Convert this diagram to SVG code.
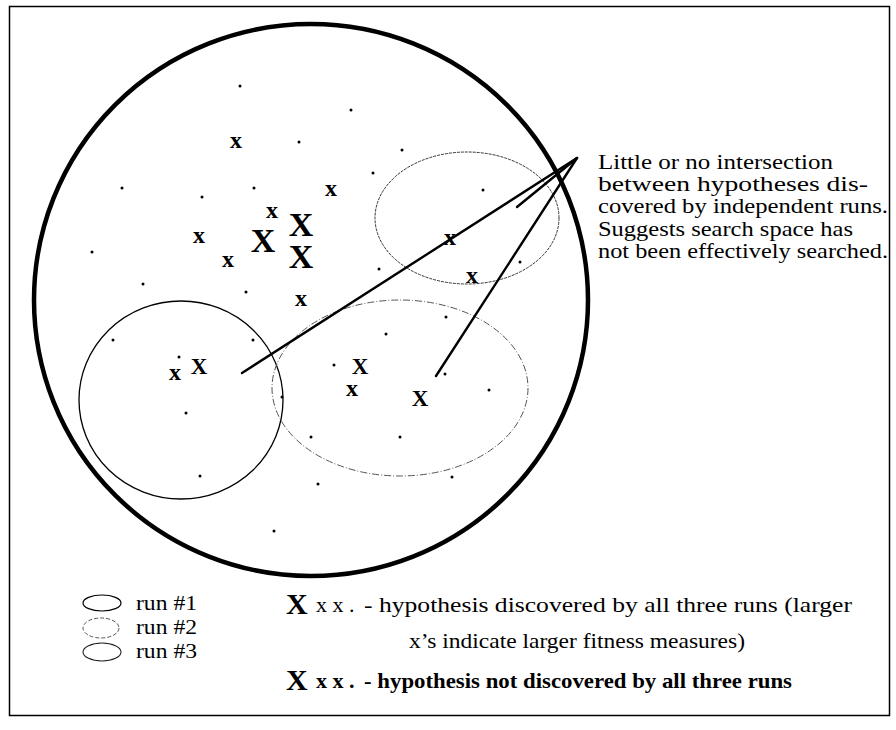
<svg xmlns="http://www.w3.org/2000/svg" width="896" height="730" viewBox="0 0 896 730">
<style>
.t{font-family:"Liberation Serif","Times New Roman",serif;fill:#000}
.dot{fill:#000}
.xs{font-family:"Liberation Serif","Times New Roman",serif;font-weight:bold;font-size:24px;text-anchor:middle}
.xm{font-family:"Liberation Serif","Times New Roman",serif;font-weight:bold;font-size:23px;text-anchor:middle}
.xl{font-family:"Liberation Serif","Times New Roman",serif;font-weight:bold;font-size:34px;text-anchor:middle}
.conn{stroke:#000;stroke-width:2.4;fill:none;stroke-linecap:round}
</style>
<rect x="0" y="0" width="896" height="730" fill="#fff"/>
<rect id="frame" x="9.5" y="6.5" width="880" height="709" fill="none" stroke="#000" stroke-width="1.5"/>

<g id="space">
<ellipse cx="311" cy="300" rx="277" ry="276" fill="none" stroke="#000" stroke-width="4.5"/>
</g>
<g id="run1">
<ellipse cx="181" cy="400" rx="102" ry="99" fill="none" stroke="#000" stroke-width="1.3"/>
</g>
<g id="run2">
<ellipse cx="400" cy="388" rx="128" ry="88" fill="none" stroke="#555" stroke-width="1" stroke-dasharray="7 2 1 2"/>
</g>
<g id="run3">
<ellipse cx="467" cy="218" rx="92" ry="66" fill="none" stroke="#333" stroke-width="1" stroke-dasharray="3 1"/>
</g>

<g id="dots" class="dot">
<circle cx="240" cy="86" r="1.5"/><circle cx="351" cy="110" r="1.5"/><circle cx="299" cy="142" r="1.5"/>
<circle cx="122" cy="188" r="1.5"/><circle cx="202" cy="197" r="1.5"/><circle cx="254" cy="188" r="1.5"/>
<circle cx="92" cy="252" r="1.5"/><circle cx="143" cy="284" r="1.5"/><circle cx="246" cy="292" r="1.5"/>
<circle cx="402" cy="150" r="1.5"/><circle cx="373" cy="173" r="1.5"/><circle cx="483" cy="190" r="1.5"/>
<circle cx="379" cy="269" r="1.5"/><circle cx="520" cy="262" r="1.5"/><circle cx="446" cy="317" r="1.5"/>
<circle cx="113" cy="340" r="1.5"/><circle cx="253" cy="340" r="1.5"/><circle cx="179" cy="357" r="1.5"/>
<circle cx="186" cy="413" r="1.5"/><circle cx="282" cy="397" r="1.5"/><circle cx="334" cy="365" r="1.5"/>
<circle cx="386" cy="334" r="1.5"/><circle cx="445" cy="374" r="1.5"/><circle cx="489" cy="390" r="1.5"/>
<circle cx="311" cy="437" r="1.5"/><circle cx="400" cy="437" r="1.5"/><circle cx="200" cy="476" r="1.5"/>
<circle cx="318" cy="484" r="1.5"/><circle cx="452" cy="477" r="1.5"/><circle cx="274" cy="531" r="1.5"/>
</g>

<g id="hypotheses">
<text class="xs" x="236" y="148">x</text>
<text class="xs" x="331" y="196">x</text>
<text class="xs" x="272" y="218">x</text>
<text class="xs" x="199" y="243">x</text>
<text class="xs" x="228" y="267">x</text>
<text class="xs" x="301" y="306">x</text>
<text class="xs" x="175" y="380">x</text>
<text class="xs" x="352" y="396">x</text>
<text class="xs" x="450" y="245">x</text>
<text class="xs" x="472" y="283">x</text>
<text class="xm" x="199" y="374">X</text>
<text class="xm" x="360" y="374">X</text>
<text class="xm" x="420" y="406">X</text>
<text class="xl" x="301" y="236">X</text>
<text class="xl" x="263" y="252">X</text>
<text class="xl" x="301" y="268">X</text>
</g>

<g id="connectors">
<line class="conn" x1="577" y1="158" x2="242" y2="373"/>
<line class="conn" x1="577" y1="158" x2="517" y2="207"/>
<line class="conn" x1="577" y1="158" x2="436" y2="376"/>
</g>

<g id="note" class="t" font-size="21">
<text x="598" y="169" textLength="235" lengthAdjust="spacingAndGlyphs">Little or no intersection</text>
<text x="598" y="191" textLength="270" lengthAdjust="spacingAndGlyphs">between hypotheses dis-</text>
<text x="598" y="213" textLength="290" lengthAdjust="spacingAndGlyphs">covered by independent runs.</text>
<text x="598" y="236" textLength="255" lengthAdjust="spacingAndGlyphs">Suggests search space has</text>
<text x="598" y="258" textLength="290" lengthAdjust="spacingAndGlyphs">not been effectively searched.</text>
</g>

<g id="legend-runs">
<ellipse cx="102" cy="603" rx="19" ry="8" fill="none" stroke="#000" stroke-width="1.2"/>
<ellipse cx="101" cy="628" rx="18" ry="10" fill="none" stroke="#555" stroke-width="1" stroke-dasharray="4 2"/>
<ellipse cx="102" cy="652" rx="19" ry="9" fill="none" stroke="#222" stroke-width="1.1"/>
<text class="t" x="136" y="610" font-size="20" textLength="61" lengthAdjust="spacingAndGlyphs">run #1</text>
<text class="t" x="136" y="634" font-size="20" textLength="61" lengthAdjust="spacingAndGlyphs">run #2</text>
<text class="t" x="136" y="658" font-size="20" textLength="61" lengthAdjust="spacingAndGlyphs">run #3</text>
</g>

<g id="legend-marks">
<text class="t" x="286" y="614" font-size="30" font-weight="bold">X</text>
<text class="t" x="316" y="612" font-size="22">x x .</text>
<text class="t" x="364" y="612" font-size="21" textLength="488" lengthAdjust="spacingAndGlyphs">- hypothesis discovered by all three runs (larger</text>
<text class="t" x="409" y="648" font-size="21" textLength="336" lengthAdjust="spacingAndGlyphs">x’s indicate larger fitness measures)</text>
<text class="t" x="286" y="690" font-size="30" font-weight="bold">X</text>
<text class="t" x="316" y="688" font-size="22" font-weight="bold">x x .</text>
<text class="t" x="364" y="688" font-size="21" font-weight="bold" textLength="428" lengthAdjust="spacingAndGlyphs">- hypothesis not discovered by all three runs</text>
</g>
</svg>
